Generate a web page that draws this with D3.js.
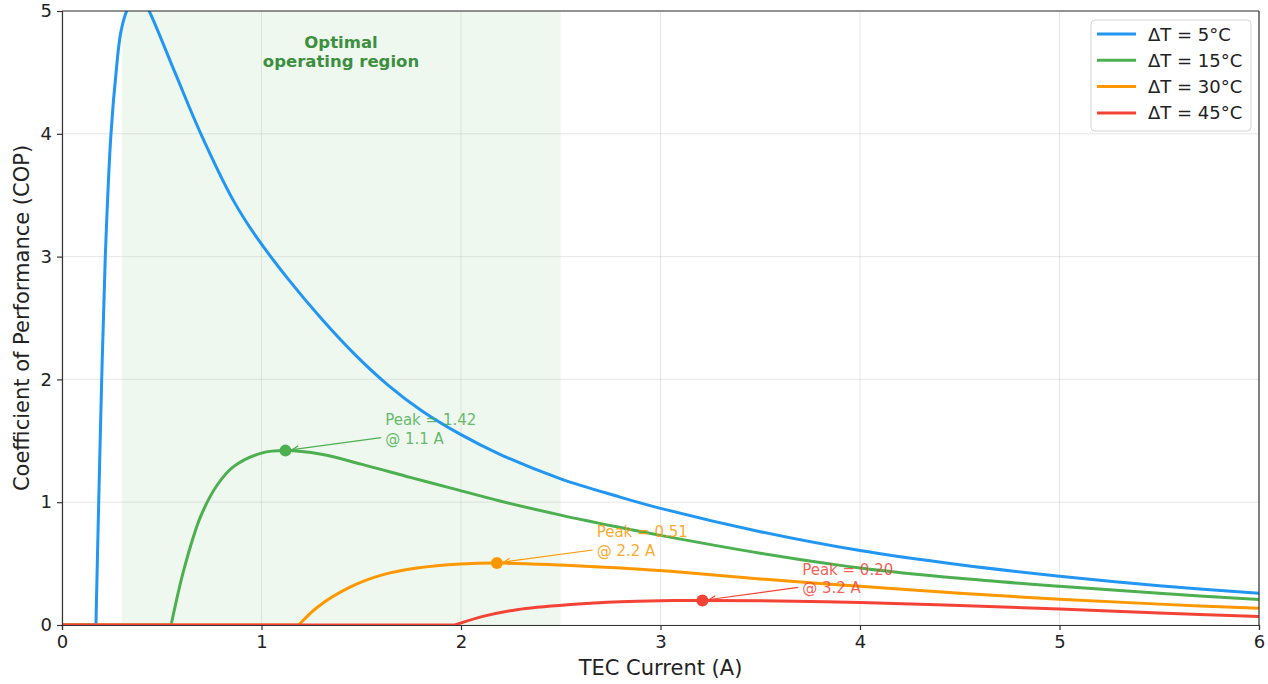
<!DOCTYPE html>
<html>
<head>
<meta charset="utf-8">
<script src="https://cdn.jsdelivr.net/npm/d3@7"></script>
<style>
  html, body { margin: 0; padding: 0; background: #fff; }
  svg { display: block; font-family: "DejaVu Sans", sans-serif; }
</style>
</head>
<body>
<svg id="chart" width="1268" height="684"></svg>
<script>
// ---- Data ----
const seriesNames = ["ΔT = 5°C", "ΔT = 15°C", "ΔT = 30°C", "ΔT = 45°C"];
const seriesColors = ["#2196F3", "#4CAF50", "#FF9800", "#F44336"];

// first point of each list is where COP leaves zero
const currentDT5  = [0.17, 0.184, 0.199, 0.217, 0.2455, 0.274, 0.294, 0.324, 0.38, 0.437, 0.566, 0.696, 0.858, 0.97, 1.137, 1.303, 1.47, 1.637, 1.803, 2.0, 2.195, 2.5, 2.78, 3.0, 3.5, 4.0, 4.5, 5.0, 5.5, 6.0];
const copDT5      = [0,    1.0,   2.0,   3.0,   4.0,    4.55,  4.82,  5.0,   5.17, 5.0,   4.5,   4.0,   3.46,  3.17, 2.81,  2.49,  2.20, 1.95,  1.745, 1.55,  1.39, 1.19, 1.05, 0.95, 0.76, 0.606, 0.49, 0.397, 0.32, 0.258];

const currentDT15 = [0.547, 0.61, 0.694, 0.778, 0.86, 1.0, 1.12, 1.3, 1.5, 1.75, 1.945, 2.195, 2.5, 2.78, 3.0, 3.5, 4.0, 4.5, 5.0, 5.5, 6.0];
const copDT15     = [0,     0.445, 0.88, 1.14,  1.29, 1.40, 1.42, 1.39, 1.31, 1.20, 1.117, 1.01, 0.895, 0.80, 0.73, 0.585, 0.465, 0.38, 0.315, 0.258, 0.207];

const currentDT30 = [1.187, 1.28, 1.446, 1.61, 1.78, 2.0, 2.18, 2.5, 2.78, 3.05, 3.5, 4.0, 4.5, 5.0, 5.5, 6.0];
const copDT30     = [0,     0.145, 0.31, 0.41, 0.464, 0.497, 0.505, 0.488, 0.466, 0.437, 0.375, 0.315, 0.258, 0.21, 0.17, 0.136];

const currentDT45 = [1.97, 2.11, 2.28, 2.55, 2.8, 3.0, 3.2, 3.5, 4.0, 4.5, 5.0, 5.5, 6.0];
const copDT45     = [0,    0.07, 0.125, 0.167, 0.19, 0.198, 0.20, 0.197, 0.183, 0.158, 0.13, 0.098, 0.07];

const peakCurrent = [1.12, 2.18, 3.21];
const peakCop     = [1.42, 0.505, 0.20];
const peakSeries  = [1, 2, 3];
const peakLabels  = [["Peak = 1.42", "@ 1.1 A"], ["Peak = 0.51", "@ 2.2 A"], ["Peak = 0.20", "@ 3.2 A"]];

const optimalRegion = [0.3, 2.5];
const xTicks = [0, 1, 2, 3, 4, 5, 6];
const yTicks = [0, 1, 2, 3, 4, 5];

// ---- Layout ----
const svg = d3.select("#chart");
const x = d3.scaleLinear().domain([0, 6]).range([62, 1259]);
const y = d3.scaleLinear().domain([0, 5]).range([625, 11]);

const series = [
  currentDT5.map((c, i) => [c, copDT5[i]]),
  currentDT15.map((c, i) => [c, copDT15[i]]),
  currentDT30.map((c, i) => [c, copDT30[i]]),
  currentDT45.map((c, i) => [c, copDT45[i]])
];

svg.append("defs").append("clipPath").attr("id", "plotclip")
  .append("rect")
  .attr("x", x(0)).attr("y", y(5))
  .attr("width", x(6) - x(0)).attr("height", y(0) - y(5));

// shaded optimal region
svg.append("rect")
  .attr("x", x(optimalRegion[0])).attr("y", y(5))
  .attr("width", x(optimalRegion[1]) - x(optimalRegion[0]))
  .attr("height", y(0) - y(5))
  .attr("fill", "#4CAF50").attr("fill-opacity", 0.09);

// grid
const grid = svg.append("g");
grid.selectAll(".gx").data(xTicks).join("line")
  .attr("x1", d => x(d)).attr("x2", d => x(d))
  .attr("y1", y(0)).attr("y2", y(5))
  .attr("stroke", "#b0b0b0").attr("stroke-opacity", 0.3).attr("stroke-width", 1);
grid.selectAll(".gy").data(yTicks).join("line")
  .attr("x1", x(0)).attr("x2", x(6))
  .attr("y1", d => y(d)).attr("y2", d => y(d))
  .attr("stroke", "#b0b0b0").attr("stroke-opacity", 0.3).attr("stroke-width", 1);

// region label
const regionLabel = svg.append("text")
  .attr("text-anchor", "middle")
  .attr("fill", "#3d8f40")
  .attr("font-size", 16.5).attr("font-weight", "bold");
regionLabel.append("tspan").attr("x", 341).attr("y", 48).text("Optimal");
regionLabel.append("tspan").attr("x", 341).attr("y", 67).text("operating region");

// lines
const flat = d3.line().x(d => x(d[0])).y(d => y(d[1]));
const smooth = d3.line().x(d => x(d[0])).y(d => y(d[1])).curve(d3.curveCatmullRom.alpha(0.5));
const lines = svg.append("g").attr("clip-path", "url(#plotclip)");
series.forEach((s, i) => {
  const g = lines.append("g");
  g.append("path").datum([[0, 0], s[0]])
    .attr("d", flat)
    .attr("fill", "none").attr("stroke", seriesColors[i]).attr("stroke-width", 3);
  g.append("path").datum(s)
    .attr("d", smooth)
    .attr("fill", "none")
    .attr("stroke", seriesColors[i])
    .attr("stroke-width", 3)
    .attr("stroke-linejoin", "round");
});

// peak markers & annotations
peakCurrent.forEach((pc, i) => {
  const col = seriesColors[peakSeries[i]];
  const px = x(pc), py = y(peakCop[i]);
  const tx = x(pc + 0.5);
  const baseline2 = py - 7;
  const baseline1 = baseline2 - 18.5;
  const ax = tx - 4, ay = baseline2 - 6;
  const ang = Math.atan2(ay - py, ax - px);
  const ex = px + 7 * Math.cos(ang), ey = py + 7 * Math.sin(ang);
  svg.append("line")
    .attr("x1", ax).attr("y1", ay).attr("x2", ex).attr("y2", ey)
    .attr("stroke", col).attr("stroke-width", 1.2);
  const hl = 7, ha = 0.45;
  svg.append("path")
    .attr("d", `M${ex + hl * Math.cos(ang + ha)},${ey + hl * Math.sin(ang + ha)} L${ex},${ey} L${ex + hl * Math.cos(ang - ha)},${ey + hl * Math.sin(ang - ha)}`)
    .attr("fill", "none").attr("stroke", col).attr("stroke-width", 1.2);
  svg.append("circle")
    .attr("cx", px).attr("cy", py).attr("r", 6)
    .attr("fill", col);
  const t = svg.append("text")
    .attr("fill", col).attr("fill-opacity", 0.85)
    .attr("font-size", 15);
  t.append("tspan").attr("x", tx).attr("y", baseline1).text(peakLabels[i][0]);
  t.append("tspan").attr("x", tx).attr("y", baseline2).text(peakLabels[i][1]);
});

// axes
const xAxis = svg.append("g")
  .attr("transform", `translate(0,${y(0)})`)
  .call(d3.axisBottom(x).tickValues(xTicks).tickFormat(d3.format("d")).tickSizeOuter(0).tickSize(5).tickPadding(5));
const yAxis = svg.append("g")
  .attr("transform", `translate(${x(0)},0)`)
  .call(d3.axisLeft(y).tickValues(yTicks).tickFormat(d3.format("d")).tickSizeOuter(0).tickSize(5).tickPadding(5));
[xAxis, yAxis].forEach(a => {
  a.select(".domain").attr("stroke", "#333").attr("stroke-width", 1.2);
  a.selectAll(".tick line").attr("stroke", "#333").attr("stroke-width", 1.2);
  a.selectAll(".tick text").attr("font-size", 18).attr("fill", "#222")
    .attr("font-family", "DejaVu Sans, sans-serif");
});
svg.append("line").attr("x1", x(0)).attr("x2", x(6)).attr("y1", y(5)).attr("y2", y(5))
  .attr("stroke", "#333").attr("stroke-width", 1.2);
svg.append("line").attr("x1", x(6)).attr("x2", x(6)).attr("y1", y(5)).attr("y2", y(0))
  .attr("stroke", "#333").attr("stroke-width", 1.2);

// axis labels
svg.append("text")
  .attr("x", (x(0) + x(6)) / 2).attr("y", 675)
  .attr("text-anchor", "middle").attr("font-size", 21).attr("fill", "#222")
  .text("TEC Current (A)");
svg.append("text")
  .attr("transform", `translate(29,${(y(0) + y(5)) / 2}) rotate(-90)`)
  .attr("text-anchor", "middle").attr("font-size", 21).attr("fill", "#222")
  .text("Coefficient of Performance (COP)");

// legend
const lg = svg.append("g").attr("transform", "translate(1091,20)");
lg.append("rect").attr("x", 0).attr("y", 0).attr("width", 160).attr("height", 111)
  .attr("rx", 4).attr("fill", "#fff").attr("fill-opacity", 0.85)
  .attr("stroke", "#d5d5d5").attr("stroke-width", 1);
seriesNames.forEach((n, i) => {
  const ly = 14 + i * 26.3;
  lg.append("line").attr("x1", 6).attr("x2", 45).attr("y1", ly).attr("y2", ly)
    .attr("stroke", seriesColors[i]).attr("stroke-width", 3);
  lg.append("text").attr("x", 57).attr("y", ly + 6.5)
    .attr("font-size", 18).attr("fill", "#222").text(n);
});
</script>
</body>
</html>
